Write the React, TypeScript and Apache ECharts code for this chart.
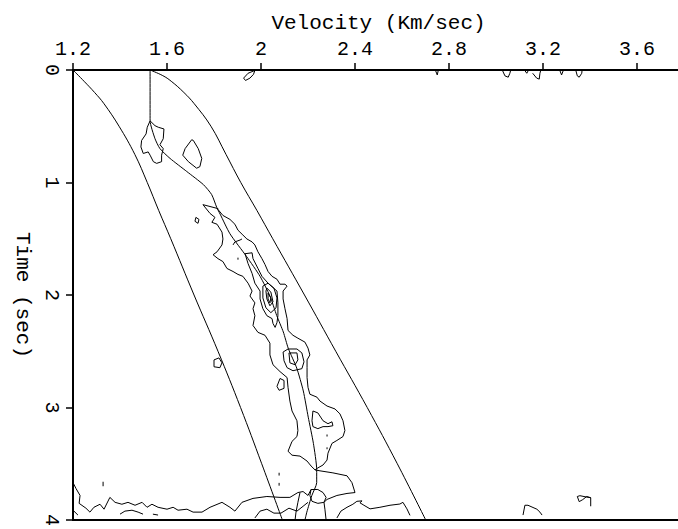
import React, { useEffect, useRef } from "react";
import * as echarts from "echarts";

// ---- Axis ticks ----
const velocityTicks = [1.2, 1.6, 2, 2.4, 2.8, 3.2, 3.6];
const timeTicks = [0, 1, 2, 3, 4];

// ---- Curves [velocity, time] ----
const leftBound: number[][] = [
  [1.2, 0], [1.247, 0.1], [1.292, 0.2], [1.332, 0.3], [1.396, 0.5], [1.463, 0.75],
  [1.516, 1.0], [1.565, 1.25], [1.616, 1.5], [1.715, 2.0], [1.817, 2.5], [1.913, 3.0],
  [2.003, 3.5], [2.091, 4.0],
];
const rightBound: number[][] = [
  [1.528, 0], [1.582, 0.05], [1.618, 0.1], [1.672, 0.2], [1.716, 0.3], [1.787, 0.5],
  [1.851, 0.75], [1.914, 1.0], [1.983, 1.25], [2.05, 1.5], [2.185, 2.0], [2.318, 2.5],
  [2.452, 3.0], [2.58, 3.5], [2.701, 4.0],
];
const pickLine: number[][] = [
  [1.528, 0], [1.528, 0.45], [1.549, 0.611], [1.57, 0.699], [1.613, 0.786], [1.684, 0.902],
  [1.755, 1.019], [1.79, 1.107], [1.812, 1.223], [1.826, 1.281], [1.868, 1.456], [1.939, 1.659],
  [1.996, 1.834], [2.038, 2.009], [2.067, 2.183], [2.095, 2.329], [2.116, 2.474], [2.152, 2.649],
  [2.18, 2.853], [2.201, 3.086], [2.223, 3.319], [2.237, 3.552], [2.237, 3.668], [2.216, 3.784],
  [2.195, 3.93], [2.187, 4.0],
];

// ---- Semblance contours [velocity, time] ----
const blobTop: number[][] = [
  [1.528, 0.452], [1.516, 0.509], [1.511, 0.568], [1.492, 0.626], [1.489, 0.684], [1.499, 0.742],
  [1.52, 0.728], [1.528, 0.757], [1.542, 0.815], [1.556, 0.83], [1.577, 0.815], [1.577, 0.757],
  [1.584, 0.699], [1.57, 0.664], [1.584, 0.611], [1.587, 0.524], [1.563, 0.509], [1.549, 0.495],
  [1.528, 0.452],
];
const ovalTop: number[][] = [
  [1.705, 0.62], [1.677, 0.699], [1.667, 0.757], [1.691, 0.815], [1.726, 0.873], [1.74, 0.859],
  [1.748, 0.786], [1.733, 0.699], [1.712, 0.626], [1.705, 0.62],
];
const nearAxis2: number[][] = [
  [1.974, 0.004], [1.945, 0.029], [1.926, 0.072], [1.934, 0.093], [1.953, 0.072], [1.968, 0.039], [1.974, 0.004],
];
const topWiggles: number[][][] = [
  [[2.743, 0.006], [2.75, 0.044], [2.754, 0.006]],
  [[3.028, 0.006], [3.038, 0.052], [3.052, 0.064], [3.059, 0.029], [3.062, 0.006]],
  [[3.123, 0.006], [3.131, 0.029], [3.137, 0.006]],
  [[3.156, 0.029], [3.173, 0.072], [3.184, 0.081], [3.187, 0.029], [3.19, 0.006]],
  [[3.272, 0.006], [3.279, 0.044], [3.286, 0.006]],
  [[3.34, 0.006], [3.346, 0.052], [3.354, 0.064], [3.365, 0.029], [3.366, 0.006]],
];
const outerBand: number[][] = [
  [1.817, 1.24], [1.838, 1.293], [1.868, 1.328], [1.889, 1.371], [1.902, 1.424], [1.923, 1.467],
  [1.94, 1.502], [1.962, 1.528], [1.974, 1.555], [1.987, 1.616], [2.004, 1.677], [2.017, 1.729],
  [2.03, 1.791], [2.047, 1.834], [2.068, 1.86], [2.081, 1.904], [2.102, 1.904], [2.111, 1.921],
  [2.094, 1.965], [2.094, 2.035], [2.102, 2.122], [2.111, 2.21], [2.115, 2.315], [2.136, 2.358],
  [2.157, 2.384], [2.187, 2.419], [2.2, 2.472], [2.208, 2.533], [2.196, 2.577], [2.196, 2.646],
  [2.196, 2.734], [2.2, 2.821], [2.208, 2.882], [2.238, 2.908], [2.251, 2.943], [2.281, 2.987],
  [2.315, 3.013], [2.336, 3.057], [2.349, 3.118], [2.357, 3.205], [2.349, 3.258], [2.323, 3.293],
  [2.302, 3.319], [2.285, 3.406], [2.281, 3.467], [2.264, 3.511], [2.242, 3.537], [2.23, 3.555],
  [2.213, 3.52], [2.196, 3.476], [2.166, 3.432], [2.132, 3.424], [2.115, 3.389], [2.132, 3.301],
  [2.153, 3.258], [2.157, 3.205], [2.153, 3.118], [2.132, 3.031], [2.123, 2.943], [2.115, 2.821],
  [2.111, 2.734], [2.081, 2.681], [2.051, 2.62], [2.038, 2.533], [2.038, 2.428], [2.017, 2.358],
  [1.987, 2.332], [1.966, 2.271], [1.974, 2.184], [1.966, 2.122], [1.974, 2.07], [1.962, 2.035],
  [1.953, 2.009], [1.962, 1.965], [1.945, 1.895], [1.923, 1.834], [1.902, 1.817], [1.881, 1.791],
  [1.855, 1.764], [1.838, 1.703], [1.817, 1.677], [1.796, 1.642], [1.813, 1.616], [1.834, 1.555],
  [1.838, 1.502], [1.834, 1.441], [1.813, 1.371], [1.791, 1.354], [1.804, 1.31], [1.783, 1.275],
  [1.753, 1.197], [1.817, 1.232], [1.817, 1.24],
];
const level2: number[][] = [
  [1.932, 1.633], [1.962, 1.625], [1.966, 1.677], [1.987, 1.764], [2.004, 1.834], [2.03, 1.895],
  [2.068, 1.965], [2.072, 2.07], [2.072, 2.184], [2.068, 2.245], [2.06, 2.288], [2.051, 2.253],
  [2.047, 2.21], [2.025, 2.184], [2.008, 2.122], [1.996, 2.035], [1.996, 1.965], [1.974, 1.895],
  [1.962, 1.808], [1.945, 1.721], [1.932, 1.633],
];
const level3: number[][] = [
  [2.008, 1.921], [2.03, 1.895], [2.055, 1.939], [2.068, 2.026], [2.064, 2.114], [2.042, 2.157],
  [2.021, 2.114], [2.008, 2.026], [2.008, 1.921],
];
const level4: number[][] = [
  [2.025, 1.939], [2.042, 1.974], [2.051, 2.061], [2.038, 2.096], [2.025, 2.035], [2.021, 1.965], [2.025, 1.939],
];
const level5: number[][] = [
  [2.03, 1.983], [2.042, 2.026], [2.038, 2.07], [2.03, 2.035], [2.03, 1.983],
];
const ringOuter: number[][] = [
  [2.094, 2.507], [2.098, 2.585], [2.111, 2.646], [2.136, 2.673], [2.174, 2.655], [2.183, 2.594],
  [2.174, 2.515], [2.153, 2.48], [2.115, 2.48], [2.094, 2.507],
];
const ringInner: number[][] = [
  [2.119, 2.515], [2.123, 2.603], [2.145, 2.62], [2.157, 2.577], [2.153, 2.515], [2.119, 2.515],
];
const holeLow: number[][] = [
  [2.221, 3.031], [2.242, 3.048], [2.264, 3.118], [2.285, 3.144], [2.302, 3.127], [2.306, 3.162],
  [2.285, 3.17], [2.264, 3.17], [2.242, 3.188], [2.221, 3.17], [2.217, 3.118], [2.221, 3.031],
];
const smallLoops: number[][][] = [
  [[1.8, 2.577], [1.8, 2.638], [1.825, 2.646], [1.834, 2.603], [1.821, 2.559], [1.8, 2.577]],
  [[2.081, 2.742], [2.068, 2.812], [2.077, 2.847], [2.098, 2.83], [2.098, 2.76], [2.081, 2.742]],
  [[1.723, 1.31], [1.719, 1.345], [1.732, 1.363], [1.736, 1.328], [1.723, 1.31]],
  [[1.881, 1.555], [1.889, 1.528], [1.911, 1.511], [1.919, 1.502]],
  [[1.902, 1.668], [1.902, 1.686]],
  [[2.281, 3.24], [2.281, 3.258]],
  [[2.281, 3.354], [2.281, 3.371]],
  [[2.077, 3.58], [2.077, 3.605]],
  [[2.077, 3.67], [2.077, 3.695]],
  [[1.328, 3.66], [1.328, 3.7]],
];
const bottomMain: number[][] = [
  [1.2, 3.668], [1.213, 3.721], [1.23, 3.782], [1.226, 3.852], [1.255, 3.895], [1.272, 3.93],
  [1.289, 3.887], [1.315, 3.86], [1.332, 3.904], [1.357, 3.799], [1.379, 3.843], [1.408, 3.86],
  [1.434, 3.843], [1.464, 3.869], [1.494, 3.843], [1.515, 3.887], [1.536, 3.86], [1.562, 3.887],
  [1.6, 3.904], [1.626, 3.887], [1.647, 3.913], [1.685, 3.904], [1.711, 3.93], [1.749, 3.93],
  [1.783, 3.887], [1.834, 3.843], [1.868, 3.887], [1.889, 3.921], [1.919, 3.843], [1.966, 3.808],
  [2.025, 3.791], [2.081, 3.799], [2.123, 3.799], [2.157, 3.756], [2.179, 3.747], [2.2, 3.782],
  [2.213, 3.729],
];
const bottomPieces: number[][][] = [
  [[1.2, 3.913], [1.221, 3.956]],
  [[1.4, 3.948], [1.421, 3.921], [1.451, 3.913], [1.477, 3.93], [1.498, 3.948]],
  [[1.54, 3.948], [1.562, 3.956]],
  [[1.974, 3.982], [1.996, 3.921], [2.025, 3.904], [2.055, 3.939], [2.085, 3.939], [2.119, 3.895],
    [2.153, 3.921], [2.179, 3.878], [2.2, 3.843]],
  [[2.166, 3.756], [2.157, 3.843], [2.149, 3.93], [2.145, 4.0]],
  [[2.213, 3.729], [2.242, 3.729], [2.264, 3.756], [2.277, 3.799], [2.268, 3.843], [2.242, 3.852],
    [2.217, 3.834], [2.208, 3.782], [2.213, 3.729]],
  [[2.268, 3.843], [2.272, 3.904], [2.277, 4.0]],
  [[2.23, 3.555], [2.251, 3.563], [2.306, 3.581], [2.366, 3.607], [2.387, 3.668], [2.4, 3.756],
    [2.366, 3.764], [2.323, 3.782], [2.281, 3.817], [2.268, 3.843]],
  [[2.323, 3.982], [2.34, 3.921], [2.366, 3.887], [2.391, 3.86], [2.408, 3.834], [2.43, 3.83],
    [2.421, 3.847], [2.438, 3.869], [2.464, 3.901], [2.506, 3.887], [2.549, 3.869], [2.591, 3.858],
    [2.604, 3.843], [2.621, 3.901], [2.634, 3.959]],
  [[3.115, 3.956], [3.123, 3.869], [3.136, 3.869], [3.174, 3.904], [3.187, 3.93], [3.196, 3.956]],
  [[3.403, 3.878], [3.403, 3.802], [3.386, 3.791], [3.369, 3.819], [3.354, 3.837], [3.346, 3.791],
    [3.357, 3.784], [3.383, 3.795], [3.403, 3.802]],
];

const FONT = "Liberation Mono";

export default function App() {
  const ref = useRef<HTMLDivElement>(null);
  useEffect(() => {
    if (!ref.current) return;
    const chart = echarts.init(ref.current, undefined, { renderer: "svg" });
    const mk = (data: number[][], smooth: number | boolean = false) => ({
      type: "line",
      data,
      symbol: "none",
      showSymbol: false,
      smooth,
      silent: true,
      lineStyle: { color: "#000", width: 1 },
    });
    const contours: number[][][] = [
      blobTop, ovalTop, nearAxis2, ...topWiggles, outerBand, level2, level3, level4, level5,
      ringOuter, ringInner, holeLow, ...smallLoops, bottomMain, ...bottomPieces,
    ];
    const series: any[] = [
      mk(leftBound, 0.4),
      mk(rightBound, 0.4),
      mk(pickLine, 0.2),
      ...contours.map((c) => mk(c)),
    ];
    chart.setOption({
      animation: false,
      grid: {
        left: 73, top: 70, right: 0, bottom: 1,
        show: true, borderColor: "#000", borderWidth: 2, backgroundColor: "transparent",
      },
      xAxis: {
        type: "value", position: "top",
        min: velocityTicks[0], max: 3.8, interval: 0.4,
        name: "Velocity (Km/sec)", nameLocation: "middle", nameGap: 36,
        nameTextStyle: { fontFamily: FONT, fontSize: 21, color: "#000" },
        axisLine: { show: true, lineStyle: { color: "#000", width: 2 } },
        axisTick: { show: true, length: 7, lineStyle: { color: "#000", width: 1.5 } },
        axisLabel: {
          margin: 11, fontFamily: FONT, fontSize: 20, color: "#000", showMaxLabel: false,
          formatter: (v: number) => {
            const hit = velocityTicks.find((t) => Math.abs(t - v) < 1e-6);
            return hit === undefined ? "" : String(hit);
          },
        },
        splitLine: { show: false },
      },
      yAxis: {
        type: "value", inverse: true,
        min: timeTicks[0], max: timeTicks[timeTicks.length - 1], interval: 1,
        name: "Time (sec)", nameLocation: "middle", nameGap: 36, nameRotate: -90,
        nameTextStyle: { fontFamily: FONT, fontSize: 21, color: "#000" },
        axisLine: { show: true, lineStyle: { color: "#000", width: 2 } },
        axisTick: { show: true, length: 7, lineStyle: { color: "#000", width: 1.5 } },
        axisLabel: { margin: 12, rotate: -90, fontFamily: FONT, fontSize: 20, color: "#000" },
        splitLine: { show: false },
      },
      series,
    });
    return () => chart.dispose();
  }, []);
  return (
    <div
      style={{
        position: "absolute", left: 0, top: 0, width: 678, height: 529,
        overflow: "hidden", background: "#fff",
      }}
    >
      <div ref={ref} style={{ width: 684, height: 529 }} />
    </div>
  );
}
